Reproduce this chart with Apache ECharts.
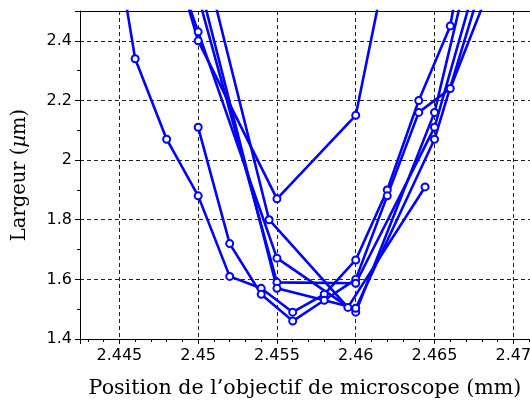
<!DOCTYPE html>
<html>
<head>
<meta charset="utf-8">
<script src="https://cdn.jsdelivr.net/npm/echarts@6/dist/echarts.min.js"></script>
<style>html,body{margin:0;padding:0;background:#fff;}#c{width:530px;height:403px;}</style>
</head>
<body>
<div id="c"></div>
<script>
// Scan series (x: objective position in mm, y: width in µm)
const scanA_x = [2.444, 2.446, 2.448, 2.450, 2.452, 2.454, 2.456, 2.458, 2.460, 2.462, 2.464, 2.466, 2.468];
const scanA_y = [2.98, 2.34, 2.07, 1.88, 1.61, 1.57, 1.49, 1.55, 1.665, 1.90, 2.20, 2.45, 3.06];
const scanB_x = [2.450, 2.452, 2.454, 2.456, 2.458, 2.460, 2.462, 2.464, 2.466, 2.468];
const scanB_y = [2.11, 1.72, 1.55, 1.46, 1.53, 1.60, 1.88, 2.16, 2.24, 2.51];
const scanC_x = [2.4495, 2.4545, 2.4595, 2.4644];
const scanC_y = [2.86, 1.80, 1.506, 1.91];
const scanD_x = [2.445, 2.450, 2.455, 2.460, 2.465];
const scanD_y = [3.30, 2.40, 1.87, 2.15, 3.45];
const scanE_x = [2.445, 2.450, 2.455, 2.460, 2.465, 2.470];
const scanE_y = [3.19, 2.43, 1.671, 1.49, 2.16, 3.27];
const scanF_x = [2.450, 2.455, 2.460, 2.465, 2.470];
const scanF_y = [2.55, 1.59, 1.587, 2.11, 3.04];
const scanG_x = [2.450, 2.455, 2.460, 2.465, 2.470];
const scanG_y = [2.61, 1.57, 1.503, 2.07, 2.94];

const scans = [
  [scanA_x, scanA_y], [scanB_x, scanB_y], [scanC_x, scanC_y], [scanD_x, scanD_y],
  [scanE_x, scanE_y], [scanF_x, scanF_y], [scanG_x, scanG_y]
];

const xTitle = "Position de l\u2019objectif de microscope (mm)";
const yTitle = "Largeur ({i|\u00b5}m)";

const chart = echarts.init(document.getElementById('c'), null, {renderer: 'canvas'});

const series = scans.map(([xs, ys]) => ({
  type: 'line',
  xAxisIndex: 0, yAxisIndex: 0,
  data: xs.map((x, i) => [x, ys[i]]),
  clip: true,
  symbol: 'circle',
  symbolSize: 7,
  showAllSymbol: true,
  lineStyle: {color: '#0000ff', width: 2.6},
  itemStyle: {color: '#ffffff', borderColor: '#0000ff', borderWidth: 2},
  emphasis: {disabled: true},
  animation: false
}));

const X_MIN = 2.4425, X_MAX = 2.47106;

chart.setOption({
  animation: false,
  backgroundColor: '#ffffff',
  grid: {left: 80, top: 11, width: 450, height: 328, show: false, outerBoundsMode: 'none', containLabel: false},
  xAxis: [{
    type: 'value', min: X_MIN, max: X_MAX, splitNumber: 6,
    axisLine: {show: true, onZero: false, lineStyle: {color: '#000', width: 1}},
    axisTick: {show: true, inside: false, length: 5, lineStyle: {color: '#000'}},
    minorTick: {show: true, splitNumber: 5, length: 3, lineStyle: {color: '#000'}},
    axisLabel: {color: '#000', fontSize: 16, fontFamily: 'DejaVu Sans', margin: 9, showMinLabel: false, showMaxLabel: false, hideOverlap: false},
    splitLine: {show: true, showMinLine: false, showMaxLine: false, lineStyle: {color: '#222', width: 1, type: [4, 3]}},
    name: xTitle, nameLocation: 'middle', nameGap: 39,
    nameTextStyle: {color: '#000', fontSize: 20.6, fontFamily: 'DejaVu Serif'}
  }, {
    type: 'value', position: 'top', min: X_MIN, max: X_MAX,
    axisLine: {show: true, onZero: false, lineStyle: {color: '#000', width: 1}},
    axisTick: {show: false}, axisLabel: {show: false}, splitLine: {show: false}
  }],
  yAxis: {
    type: 'value', min: 1.4, max: 2.5, interval: 0.2,
    axisLine: {show: true, onZero: false, lineStyle: {color: '#000', width: 1}},
    axisTick: {show: true, inside: false, length: 5, lineStyle: {color: '#000'}},
    minorTick: {show: true, splitNumber: 2, length: 3, lineStyle: {color: '#000'}},
    axisLabel: {color: '#000', fontSize: 16, fontFamily: 'DejaVu Sans', margin: 8, showMaxLabel: false},
    splitLine: {show: true, showMinLine: false, showMaxLine: false, lineStyle: {color: '#222', width: 1, type: [4, 3]}},
    name: yTitle, nameLocation: 'middle', nameGap: 50, nameRotate: 90,
    nameTextStyle: {color: '#000', fontSize: 19.5, fontFamily: 'DejaVu Serif', rich: {i: {fontStyle: 'italic', fontSize: 19.5, fontFamily: 'DejaVu Serif', color: '#000'}}}
  },
  series: series
});
</script>
</body>
</html>
